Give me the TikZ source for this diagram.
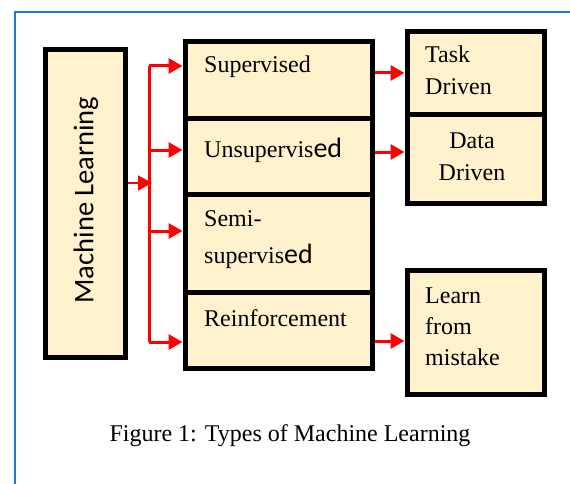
\documentclass[tikz,border=0pt]{standalone}
\usepackage{fontspec}
\setmainfont{Liberation Serif}
\newfontfamily\calib{Carlito}
\usetikzlibrary{arrows.meta}
\definecolor{boxfill}{HTML}{FFF2CC}
\definecolor{framebl}{HTML}{2478C8}
\begin{document}
\begin{tikzpicture}[x=1pt,y=-1pt,
  box/.style={draw=black,line width=5pt,fill=boxfill,anchor=north west,inner sep=0pt},
  lbl/.style={inner sep=0pt,font=\fontsize{24}{32}\selectfont,align=left},
  arr/.style={draw=red,line width=3pt,-{Triangle[length=14pt,width=15pt]}},
  bus/.style={draw=red,line width=3pt}]
\useasboundingbox (0,0) rectangle (570,484);
% outer frame
\draw[framebl,line width=2.5pt] (15,484) -- (15,12) -- (570,12);
% root box
\node[box,minimum width=80pt,minimum height=307pt] (ml) at (42.5,47.5) {};
\node[rotate=90,inner sep=0pt,font=\calib\fontsize{28.5}{34}\selectfont] (tml) at (86,200) {Machine Learning};
% learning types
\node[box,minimum width=187pt,minimum height=76.5pt] (sup) at (182.5,39.5) {};
\node[box,minimum width=187pt,minimum height=76pt] (uns) at (182.5,116) {};
\node[box,minimum width=187pt,minimum height=98pt] (semi) at (182.5,192) {};
\node[box,minimum width=187pt,minimum height=75.5pt] (rein) at (182.5,290) {};
% outcomes
\node[box,minimum width=137pt,minimum height=82.5pt] (task) at (404.5,29.5) {};
\node[box,minimum width=137pt,minimum height=89pt] (data) at (404.5,112) {};
\node[box,minimum width=137pt,minimum height=124pt] (learn) at (404.5,267.5) {};
% labels
\node[lbl,anchor=west] (tsup) at (204,67) {Supervised};
\node[lbl,anchor=west] (tuns) at (204,150) {Unsupervis{\calib\fontsize{28}{32}\selectfont ed}};
\node[lbl,anchor=north west,font=\fontsize{24}{37}\selectfont] (tsemi) at (204,210) {Semi-\\supervis{\calib\fontsize{28}{37}\selectfont ed}};
\node[lbl,anchor=west] (trein) at (204,318) {Reinforcement};
\node[lbl,anchor=north west] (ttask) at (425,46) {Task\\Driven};
\node[lbl,anchor=north,align=center] (tdata) at (472,133) {Data\\Driven};
\node[lbl,anchor=north west,font=\fontsize{24}{31}\selectfont] (tlearn) at (425,288) {Learn\\from\\mistake};
% caption
\node[lbl] (cap) at (290,436) {Figure 1: Types of Machine Learning};
% distribution bus
\coordinate (b1) at (149,66);
\coordinate (b2) at (149,150);
\coordinate (b3) at (149,231);
\coordinate (b4) at (149,342);
\coordinate (bin) at (152,183);
\draw[bus] (b1) -- (b4);
\draw[arr,line width=2pt] (ml.east |- bin) -- (bin);
\draw[arr] (b1) -- (sup.west |- b1);
\draw[arr] (b2) -- (uns.west |- b2);
\draw[arr] (b3) -- (semi.west |- b3);
\draw[arr] (b4) -- (rein.west |- b4);
% outcome arrows
\coordinate (r1) at (0,73);
\coordinate (r2) at (0,152);
\coordinate (r3) at (0,341);
\draw[arr] (sup.east |- r1) -- (task.west |- r1);
\draw[arr] (uns.east |- r2) -- (data.west |- r2);
\draw[arr] (rein.east |- r3) -- (learn.west |- r3);
\end{tikzpicture}
\end{document}
